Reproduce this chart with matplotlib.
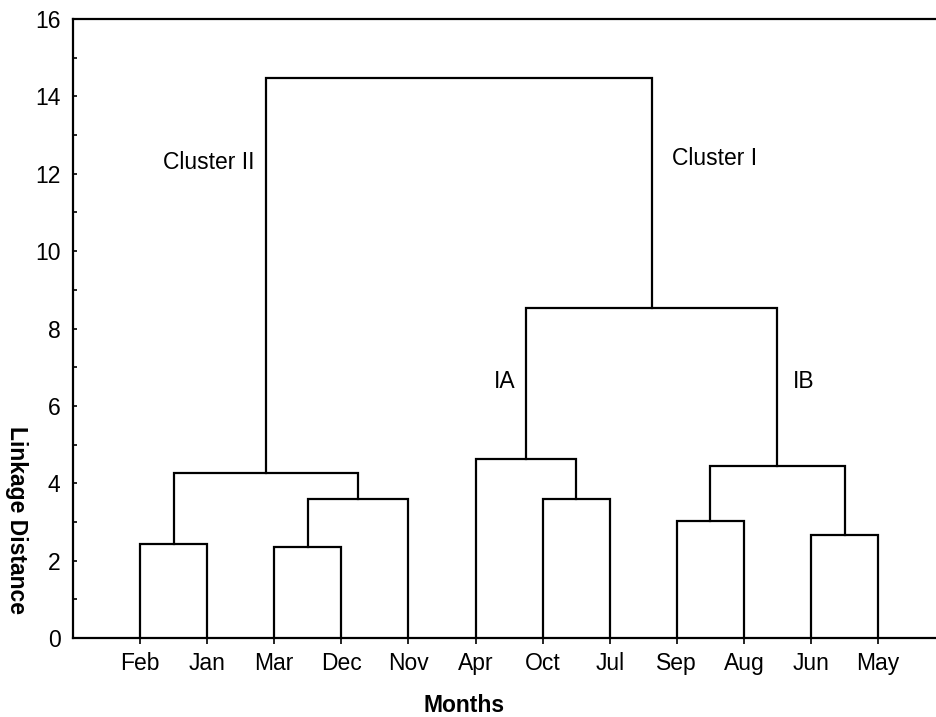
import matplotlib
matplotlib.use("Agg")
import matplotlib.pyplot as plt
from matplotlib.ticker import MultipleLocator

# ---- data ----
months = ["Feb", "Jan", "Mar", "Dec", "Nov", "Apr", "Oct", "Jul", "Sep", "Aug", "Jun", "May"]
# merges: (left node, right node, linkage distance); leaves are 0..11, new clusters 12..
merge_left = [0, 2, 13, 12, 6, 5, 8, 10, 18, 17, 15]
merge_right = [1, 3, 4, 14, 7, 16, 9, 11, 19, 20, 21]
merge_height = [2.42, 2.36, 3.58, 4.27, 3.59, 4.63, 3.03, 2.65, 4.44, 8.52, 14.48]
yticks = [0, 2, 4, 6, 8, 10, 12, 14, 16]

plt.rcParams['font.family'] = ['Liberation Sans', 'DejaVu Sans']

fig = plt.figure(figsize=(9.36, 7.17), dpi=100)
ax = fig.add_axes([73/936, 1 - 638/717, 1 - 73/936, (638 - 19)/717])

lw = 1.6
fs = 16.5
xpos = {i: float(i) for i in range(len(months))}
ypos = {i: 0.0 for i in range(len(months))}
n = len(months)
for k, (a, b, h) in enumerate(zip(merge_left, merge_right, merge_height)):
    xa, xb = xpos[a], xpos[b]
    ax.plot([xa, xa, xb, xb], [ypos[a], h, h, ypos[b]], color='black', lw=lw,
            solid_joinstyle='miter', clip_on=False)
    xpos[n + k] = (xa + xb) / 2
    ypos[n + k] = h

ax.set_xlim(-1, (936 - 140) / 67.1)
ax.set_ylim(0, 16)
ax.set_xticks(range(n))
ax.set_xticklabels(months)
ax.set_yticks(yticks)
ax.yaxis.set_minor_locator(MultipleLocator(1))

for s in ['left', 'bottom', 'top']:
    ax.spines[s].set_linewidth(1.6)
ax.spines['right'].set_visible(False)

ax.tick_params(axis='y', which='both', direction='in', length=3, width=1.2, labelsize=fs, pad=9)
ax.tick_params(axis='x', which='both', direction='out', length=4, width=1.2, labelsize=fs, pad=6)

ax.set_xlabel("Months", fontsize=fs, fontweight='bold')
ax.xaxis.set_label_coords((464 - 73) / 863, -(694 - 638) / 619)
ax.set_ylabel("Linkage Distance", fontsize=fs, fontweight='bold', rotation=270, va='center')
ax.yaxis.set_label_coords(-(73 - 16) / 863, (638 - 520) / 619)

ax.text(1.70, 12.3, "Cluster II", ha='right', va='center', fontsize=fs)
ax.text(7.93, 12.4, "Cluster I", ha='left', va='center', fontsize=fs)
ax.text(5.60, 6.63, "IA", ha='right', va='center', fontsize=fs)
ax.text(9.73, 6.63, "IB", ha='left', va='center', fontsize=fs)

fig.savefig("out.png", dpi=100)
